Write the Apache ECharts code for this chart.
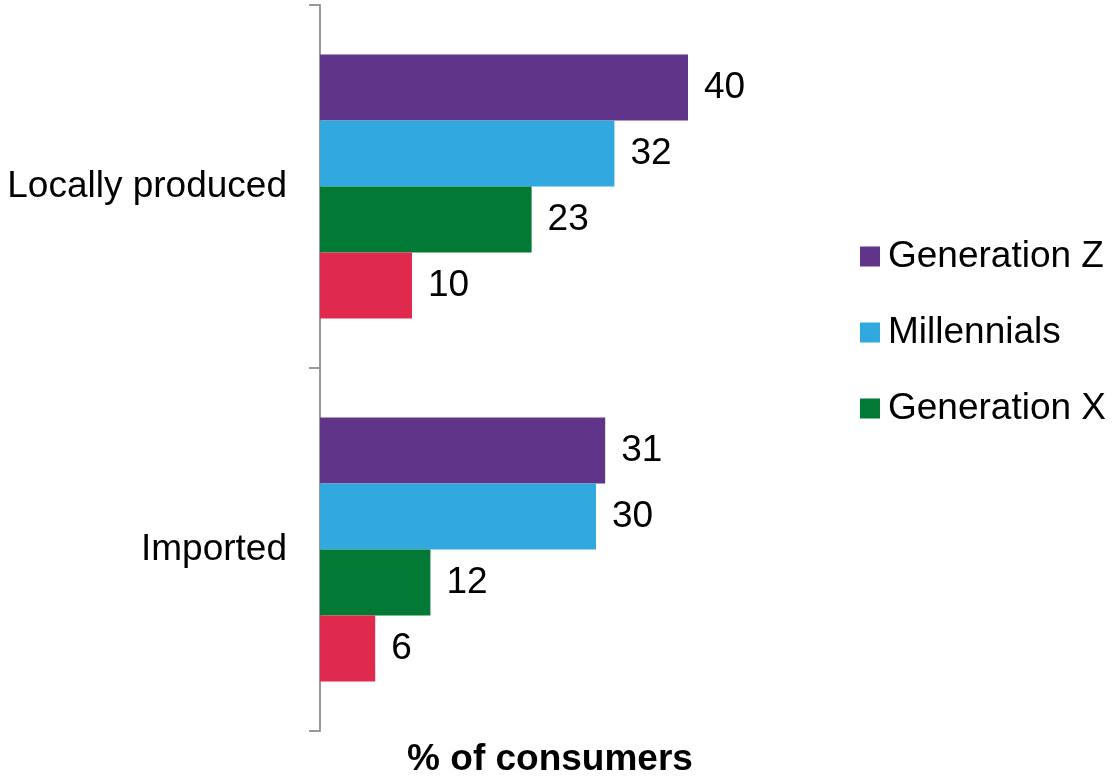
<!DOCTYPE html>
<html>
<head>
<meta charset="utf-8">
<script src="https://cdn.jsdelivr.net/npm/echarts@6/dist/echarts.min.js"></script>
<style>
html,body{margin:0;padding:0;background:#fff;}
#chart{width:1114px;height:779px;}
</style>
</head>
<body>
<div id="chart"></div>
<script>
const categories = ['Locally produced', 'Imported'];
const seriesNames = ['Generation Z', 'Millennials', 'Generation X', 'Baby boomers'];
const genZ = [40, 31];
const millennials = [32, 30];
const genX = [23, 12];
const boomers = [10, 6];
const legendNames = ['Generation Z', 'Millennials', 'Generation X'];
const axisTitle = '% of consumers';

const colors = ['#5F3489', '#31A9DF', '#027A36', '#E02A4D'];
const values = [genZ, millennials, genX, boomers];
const FONT = 'Liberation Sans, Arial, sans-serif';
const FS = 37;

const chart = echarts.init(document.getElementById('chart'));
chart.setOption({
  animation: false,
  textStyle: { fontFamily: FONT },
  grid: { left: 320, top: 5, width: 460, height: 726, containLabel: false, outerBoundsMode: 'none' },
  legend: {
    data: legendNames,
    orient: 'vertical',
    left: 855,
    top: 233,
    itemWidth: 20,
    itemHeight: 20,
    itemGap: 39,
    icon: 'rect',
    textStyle: { fontSize: FS, color: '#000', fontFamily: FONT, padding: [0, 0, 0, 3] },
    selectedMode: false
  },
  xAxis: {
    type: 'value',
    min: 0,
    max: 50,
    name: axisTitle,
    nameLocation: 'middle',
    nameGap: 10,
    nameTextStyle: { fontSize: FS, fontWeight: 'bold', color: '#000', fontFamily: FONT },
    axisLine: { show: false },
    axisTick: { show: false },
    axisLabel: { show: false },
    splitLine: { show: false }
  },
  yAxis: {
    type: 'category',
    data: categories,
    inverse: true,
    axisLine: { show: true, lineStyle: { color: '#999', width: 2 } },
    axisTick: { show: true, length: 11, lineStyle: { color: '#999', width: 2 } },
    axisLabel: { fontSize: FS, color: '#000', margin: 33, fontFamily: FONT }
  },
  series: seriesNames.map((n, i) => ({
    name: n,
    type: 'bar',
    data: values[i],
    barWidth: 66,
    barGap: '0%',
    itemStyle: { color: colors[i] },
    label: { show: true, position: 'right', distance: 16, fontSize: FS, color: '#000', fontFamily: FONT }
  }))
});
</script>
</body>
</html>
